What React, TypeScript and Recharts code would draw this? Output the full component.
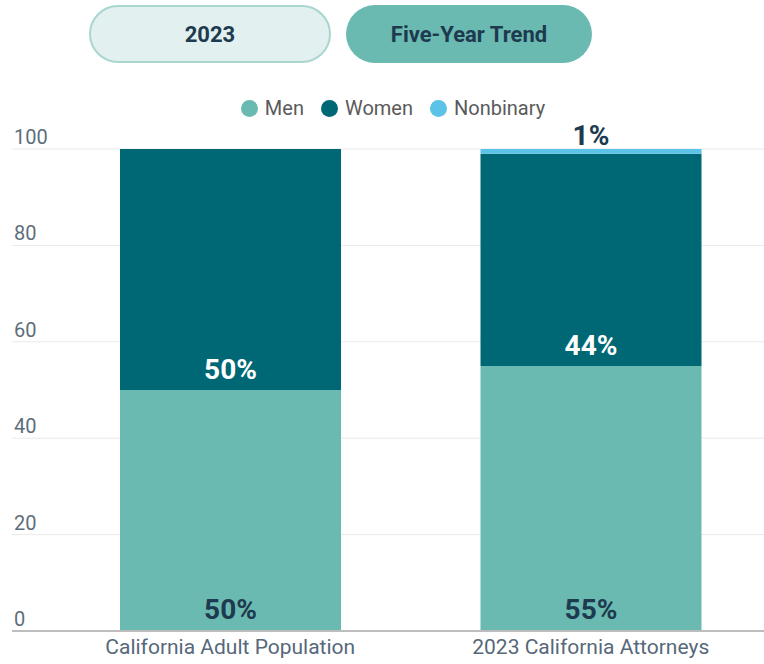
import { BarChart, Bar, XAxis, YAxis, CartesianGrid, LabelList } from "recharts";

const categories = ["California Adult Population", "2023 California Attorneys"];
const men = [50, 55];
const women = [50, 44];
const nonbinary = [0, 1];
const yTicks = [0, 20, 40, 60, 80, 100];

const data = categories.map((name, i) => ({
  name,
  men: men[i],
  women: women[i],
  nonbinary: nonbinary[i],
}));

const MEN_COLOR = "#6bbab2";
const WOMEN_COLOR = "#006874";
const NONBINARY_COLOR = "#5bc3e8";
const DARK_TEXT = "#1d3a4f";
const FONT = "Roboto, sans-serif";

const legendItems = [
  { label: "Men", color: MEN_COLOR },
  { label: "Women", color: WOMEN_COLOR },
  { label: "Nonbinary", color: NONBINARY_COLOR },
];

function YTick(props: any) {
  const { y, payload } = props;
  return (
    <text x={14} y={y - 5} fill="#5d6e7b" fontSize={20} fontFamily={FONT} textAnchor="start">
      {payload.value}
    </text>
  );
}

const pct = (v: any) => (v ? `${v}%` : "");

export default function App() {
  return (
    <div
      style={{
        position: "absolute",
        left: 0,
        top: 0,
        width: 764,
        height: 664,
        overflow: "hidden",
        background: "#fff",
        fontFamily: FONT,
      }}
    >
      <div
        style={{
          position: "absolute",
          left: 89,
          top: 5,
          width: 238,
          height: 54,
          borderRadius: 29,
          border: "2px solid #a9d6d1",
          background: "#e2f0ef",
          display: "flex",
          alignItems: "center",
          justifyContent: "center",
          color: DARK_TEXT,
          fontWeight: 700,
          fontSize: 22,
        }}
      >
        2023
      </div>
      <div
        style={{
          position: "absolute",
          left: 346,
          top: 5,
          width: 246,
          height: 58,
          borderRadius: 29,
          background: "#6bbab2",
          display: "flex",
          alignItems: "center",
          justifyContent: "center",
          color: DARK_TEXT,
          fontWeight: 700,
          fontSize: 22,
        }}
      >
        Five-Year Trend
      </div>

      <div
        style={{
          position: "absolute",
          left: 0,
          top: 96,
          width: 786,
          height: 24,
          display: "flex",
          justifyContent: "center",
          alignItems: "center",
          gap: 17,
        }}
      >
        {legendItems.map((item) => (
          <div key={item.label} style={{ display: "flex", alignItems: "center", gap: 7 }}>
            <span
              style={{
                display: "inline-block",
                width: 17,
                height: 17,
                borderRadius: "50%",
                background: item.color,
              }}
            />
            <span style={{ fontSize: 20, color: "#5a5a5a" }}>{item.label}</span>
          </div>
        ))}
      </div>

      <div style={{ position: "absolute", left: 0, top: 0 }}>
        <BarChart
          width={771}
          height={664}
          data={data}
          margin={{ top: 149, right: 0, bottom: 3, left: 0 }}
          barSize={221}
        >
          <CartesianGrid vertical={false} stroke="#e9e9e9" />
          <XAxis
            dataKey="name"
            tickLine={false}
            axisLine={{ stroke: "#bdbdbd", strokeWidth: 2 }}
            padding={{ left: 38, right: 0 }}
            height={30}
            tick={{ fill: "#56687a", fontSize: 21, fontFamily: FONT }}
          />
          <YAxis
            width={12}
            domain={[0, 100]}
            ticks={yTicks}
            interval={0}
            axisLine={false}
            tickLine={false}
            tick={YTick}
          />
          <Bar dataKey="men" stackId="a" fill={MEN_COLOR} isAnimationActive={false}>
            <LabelList
              dataKey="men"
              position="insideBottom"
              offset={12}
              formatter={pct}
              fill={DARK_TEXT}
              fontSize={28}
              fontWeight={700}
              fontFamily={FONT}
            />
          </Bar>
          <Bar dataKey="women" stackId="a" fill={WOMEN_COLOR} isAnimationActive={false}>
            <LabelList
              dataKey="women"
              position="insideBottom"
              offset={11}
              formatter={pct}
              fill="#ffffff"
              fontSize={28}
              fontWeight={700}
              fontFamily={FONT}
            />
          </Bar>
          <Bar dataKey="nonbinary" stackId="a" fill={NONBINARY_COLOR} isAnimationActive={false}>
            <LabelList
              dataKey="nonbinary"
              position="top"
              offset={4}
              formatter={pct}
              fill={DARK_TEXT}
              fontSize={28}
              fontWeight={700}
              fontFamily={FONT}
            />
          </Bar>
        </BarChart>
      </div>
    </div>
  );
}
